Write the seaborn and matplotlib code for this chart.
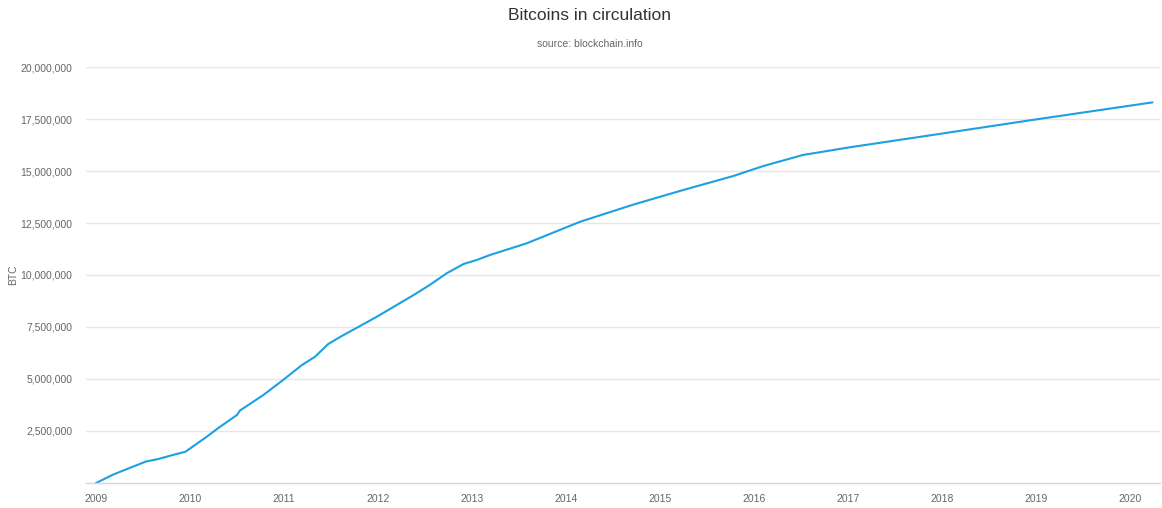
import matplotlib
matplotlib.use('Agg')
import matplotlib.pyplot as plt
import matplotlib.ticker as mticker
import pandas as pd
import seaborn as sns

# values (fractional year, BTC in circulation)
years = [2009.0, 2009.18, 2009.39, 2009.53, 2009.66, 2009.82, 2009.95, 2010.07,
         2010.18, 2010.30, 2010.50, 2010.53, 2010.67, 2010.78, 2010.99,
         2011.19, 2011.33, 2011.47, 2011.60, 2011.81, 2011.99, 2012.20, 2012.38,
         2012.55, 2012.73, 2012.91, 2013.05, 2013.19, 2013.58, 2014.15, 2014.72,
         2015.25, 2015.78, 2016.10, 2016.52, 2017.02, 2018.0, 2019.0, 2020.24]
btc = [0, 400000, 780000, 1030000, 1150000, 1350000, 1500000, 1880000,
       2230000, 2640000, 3270000, 3480000, 3900000, 4230000, 4950000,
       5670000, 6070000, 6680000, 7030000, 7550000, 8000000, 8560000, 9040000,
       9520000, 10080000, 10530000, 10720000, 10960000, 11520000, 12560000, 13390000,
       14090000, 14760000, 15240000, 15770000, 16140000, 16800000, 17480000, 18300000]
year_ticks = list(range(2009, 2021))
btc_ticks = [2500000, 5000000, 7500000, 10000000, 12500000, 15000000, 17500000, 20000000]

df = pd.DataFrame({'year': years, 'BTC': btc})

sns.set_style('white')
plt.rcParams['font.family'] = ['Liberation Sans', 'DejaVu Sans']

fig = plt.figure(figsize=(11.62, 5.08), dpi=100)
ax = fig.add_axes([86 / 1162, 1 - 483 / 508, (1160 - 86) / 1162, (483 - 67) / 508])

sns.lineplot(data=df, x='year', y='BTC', ax=ax, color='#1ba1e2', linewidth=1.5)

ax.set_xlim(2009 - 10 / 94, 2009 + (1160 - 96) / 94)
ax.set_ylim(0, 20000000)
ax.set_xticks(year_ticks)
ax.set_yticks(btc_ticks)
ax.yaxis.set_major_formatter(mticker.FuncFormatter(lambda v, p: '{:,.0f}'.format(v)))

ax.grid(axis='y', color='#e6e6e6', linewidth=1)
ax.set_axisbelow(True)
for s in ['top', 'right', 'left']:
    ax.spines[s].set_visible(False)
ax.spines['bottom'].set_color('#ccd6eb')
ax.spines['bottom'].set_linewidth(1)

ax.tick_params(axis='x', length=6, width=1, color='#ccd6eb', labelsize=7.5, labelcolor='#666666', pad=2)
ax.tick_params(axis='y', length=0, labelsize=7.5, labelcolor='#666666', pad=10)

ax.set_xlabel('')
ax.set_ylabel('BTC', color='#666666', fontsize=7.5)
ax.yaxis.set_label_coords((18 - 86) / 1074, 0.5)

fig.text(590 / 1162, 1 - 16 / 508, 'Bitcoins in circulation', ha='center', va='center',
         fontsize=12.5, color='#333333')
fig.text(590 / 1162, 1 - 44 / 508, 'source: blockchain.info', ha='center', va='center',
         fontsize=7.5, color='#666666')

fig.savefig('out.png', dpi=100)
